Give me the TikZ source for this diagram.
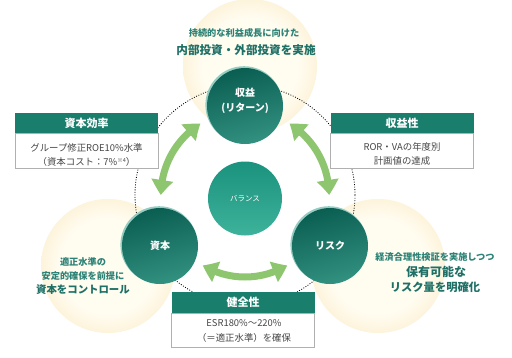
\documentclass[tikz,border=0pt]{standalone}
\usepackage{fontspec}
\setmainfont{Noto Sans CJK JP}
\usetikzlibrary{arrows.meta,bending,calc}
\definecolor{tealD}{RGB}{10,94,82}
\definecolor{tealL}{RGB}{50,145,128}
\definecolor{tealRim}{RGB}{150,205,194}
\definecolor{balD}{RGB}{26,146,125}
\definecolor{balL}{RGB}{62,178,155}
\definecolor{hdrC}{RGB}{26,126,108}
\definecolor{arrowG}{RGB}{142,198,112}
\definecolor{txtT}{RGB}{44,130,118}
\definecolor{txtB}{RGB}{30,112,102}
\definecolor{bodyT}{RGB}{70,70,70}
\definecolor{boxG}{RGB}{176,176,176}
\definecolor{glowC}{RGB}{255,252,240}
\definecolor{glowE}{RGB}{250,228,182}
\pgfdeclareradialshading{glowshade}{\pgfpoint{0bp}{0bp}}{color(0bp)=(glowC); color(18bp)=(glowC); color(38bp)=(glowE); color(45bp)=(glowE!70!white); color(50bp)=(white)}
\tikzset{
  glowfill/.style={shading=glowshade},
  garrow/.style={draw=arrowG, line width=7pt,
    arrows={Triangle[width=21pt,length=15pt,bend]-Triangle[width=21pt,length=15pt,bend]}},
  bigc/.style={circle, minimum size=76pt, inner sep=0pt, top color=tealD, bottom color=tealL, shading angle=15},
  balc/.style={circle, minimum size=74pt, inner sep=0pt, top color=balD, bottom color=balL},
  clabel/.style={text=white, align=center, font=\bfseries\fontsize{10}{15}\selectfont, inner sep=0pt},
  blabel/.style={text=white, font=\fontsize{7.5}{9}\selectfont, inner sep=0pt},
  hdrbox/.style={rectangle, fill=hdrC, minimum width=143pt, minimum height=20pt, inner sep=0pt, text=white, font=\bfseries\fontsize{11}{12}\selectfont},
  bodybox/.style={rectangle, draw=boxG, line width=0.6pt, fill=white, minimum width=143pt, minimum height=35pt, inner sep=0pt},
  bodytext/.style={align=center, text=bodyT, font=\fontsize{9.4}{14}\selectfont, inner sep=0pt},
  gsmall/.style={text=txtT, font=\bfseries\fontsize{9.2}{11}\selectfont, inner sep=0pt},
  gbig/.style={text=txtB, font=\bfseries\fontsize{11.6}{13}\selectfont, inner sep=0pt},
}
\begin{document}
\begin{tikzpicture}[x=1pt,y=-1pt]
\useasboundingbox (0,0) rectangle (512,357);
\fill[white] (0,0) rectangle (512,357);
% key points
\coordinate (C) at (245,195);
\coordinate (pT) at (245,106);
\coordinate (pK) at (160,246);
\coordinate (pR) at (330,246);
\coordinate (pB) at (245,198.5);
% glows
\shade[glowfill] (250,66) circle[radius=67pt];
\shade[glowfill] (108,266) circle[radius=67pt];
\shade[glowfill] (378,266) circle[radius=67pt];
% dotted ring
\draw[line width=0.8pt, dash pattern=on 0.9pt off 1.6pt] (C) circle[radius=110pt];
% arrows
\coordinate (la1) at ($(C)+(-122:84)$);
\coordinate (ra1) at ($(C)+(-58:84)$);
\coordinate (ba1) at ($(C)+(121:82)$);
\draw[garrow] (la1) arc[start angle=-122, end angle=-180, radius=84];
\draw[garrow] (ra1) arc[start angle=-58, end angle=0, radius=84];
\draw[garrow] (ba1) arc[start angle=121, end angle=59, radius=82];
% rims
\fill[tealRim] ($(pT)+(-1,-1.2)$) circle[radius=38.6pt];
\fill[tealRim] ($(pK)+(-1,-1.2)$) circle[radius=38.6pt];
\fill[tealRim] ($(pR)+(-1,-1.2)$) circle[radius=38.6pt];
% circles
\node[bigc] (rev) at (pT) {};
\node[bigc] (cap) at (pK) {};
\node[bigc] (risk) at (pR) {};
\node[balc] (bal) at (pB) {};
\node[clabel] (revL) at ($(pT)+(0,-5.5)$) {収益\\(リターン)};
\node[clabel] (capL) at (pK) {資本};
\node[clabel] (riskL) at (pR) {リスク};
\node[blabel] (balL) at (245,199) {バランス};
% boxes
\node[hdrbox] (effH) at (86.5,123) {資本効率};
\node[bodybox, anchor=north] (effB) at (effH.south) {};
\node[bodytext] (effT) at (86.5,154.5) {グループ修正ROE10\%水準\\（資本コスト：7\%\raisebox{0.55ex}{\fontsize{5.5}{6}\selectfont ※4}）};
\node[hdrbox] (prfH) at (402,123) {収益性};
\node[bodybox, anchor=north] (prfB) at (prfH.south) {};
\node[bodytext] (prfT) at (402,153.5) {ROR・VAの年度別\\計画値の達成};
\node[hdrbox, minimum height=21pt] (sndH) at (243,302.5) {健全性};
\node[bodybox, minimum height=34pt, anchor=north] (sndB) at (sndH.south) {};
\node[bodytext, font=\fontsize{9.4}{15}\selectfont] (sndT) at (244,330.5) {ESR180\%～220\%\\（＝適正水準）を確保};
% glow texts
\node[gsmall] (tS) at (244,33) {持続的な利益成長に向けた};
\node[gbig] (tB) at (246,50) {内部投資・外部投資を実施};
\node[gsmall] (lS1) at (83,262) {適正水準の};
\node[gsmall] (lS2) at (83,276) {安定的確保を前提に};
\node[gbig, font=\bfseries\fontsize{10.4}{12}\selectfont] (lB) at (83,290) {資本をコントロール};
\node[gsmall] (rS) at (435,257) {経済合理性検証を実施しつつ};
\node[gbig, font=\bfseries\fontsize{12}{13}\selectfont] (rB1) at (436,271.5) {保有可能な};
\node[gbig, font=\bfseries\fontsize{11.3}{13}\selectfont] (rB2) at (435,287) {リスク量を明確化};
\end{tikzpicture}
\end{document}
